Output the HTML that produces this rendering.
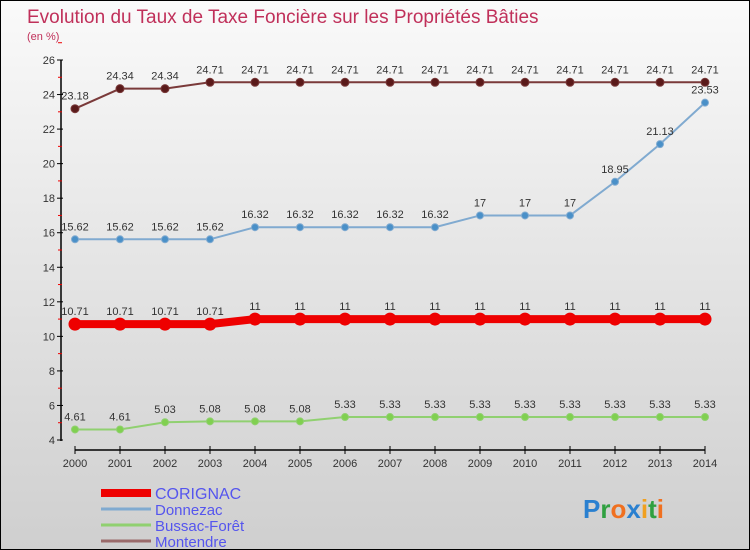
<!DOCTYPE html>
<html><head><meta charset="utf-8"><style>
body{margin:0}
#c{width:748px;height:548px;border:1px solid #000;position:relative;background:linear-gradient(#fafafa,#e8e8e8 40%,#cfcfcf);font-family:"Liberation Sans",sans-serif;overflow:hidden}
</style></head><body>
<div id="c">
<svg id="s" width="748" height="548" xmlns="http://www.w3.org/2000/svg" font-family="Liberation Sans, sans-serif">
<text x="26" y="22" font-size="19" fill="#c0305a">Evolution du Taux de Taxe Foncière sur les Propriétés Bâties</text>
<text x="26" y="39" font-size="11" fill="#c0305a">(en %)</text>
</svg>
</div>
<script>
const years=[2000,2001,2002,2003,2004,2005,2006,2007,2008,2009,2010,2011,2012,2013,2014];
const corignac=[10.71,10.71,10.71,10.71,11,11,11,11,11,11,11,11,11,11,11];
const donnezac=[15.62,15.62,15.62,15.62,16.32,16.32,16.32,16.32,16.32,17,17,17,18.95,21.13,23.53];
const bussac=[4.61,4.61,5.03,5.08,5.08,5.08,5.33,5.33,5.33,5.33,5.33,5.33,5.33,5.33,5.33];
const montendre=[23.18,24.34,24.34,24.71,24.71,24.71,24.71,24.71,24.71,24.71,24.71,24.71,24.71,24.71,24.71];
const yTicks=[4,6,8,10,12,14,16,18,20,22,24,26];
const NS="http://www.w3.org/2000/svg";
const s=document.getElementById('s');
const x=i=>74+i*45;
const y=v=>59+(26-v)*(380/22);
function mk(t,a,p){const e=document.createElementNS(NS,t);for(const k in a)e.setAttribute(k,a[k]);(p||s).appendChild(e);return e;}
let ax=mk('path',{d:`M60 59V440M74 449H704`,stroke:'#000','stroke-width':1.5,fill:'none'});


yTicks.forEach(v=>{
 mk('line',{x1:56,x2:62,y1:y(v),y2:y(v),stroke:'#000'});
 mk('line',{x1:57,x2:61,y1:y(v+1),y2:y(v+1),stroke:'#e00'});
 const t=mk('text',{x:54,y:y(v)+4,'text-anchor':'end','font-size':11,fill:'#333'});t.textContent=v;
 
 
});
years.forEach((yr,i)=>{
 mk('line',{x1:x(i),x2:x(i),y1:445,y2:453,stroke:'#000'});
 const t=mk('text',{x:x(i),y:466,'text-anchor':'middle','font-size':11,fill:'#333'});t.textContent=yr;
 
 
});
function series(d,col,dot,w,r,name){
 const g=mk('g',{});
 
 
 mk('polyline',{points:d.map((v,i)=>x(i)+','+y(v)).join(' '),stroke:col,'stroke-width':w,fill:'none'},g);
 d.forEach((v,i)=>{
  const c=mk('circle',{cx:x(i),cy:y(v),r:r,fill:dot,stroke:col,'stroke-width':1},g);
  
  
  const t=mk('text',{x:x(i),y:y(v)-9,'text-anchor':'middle','font-size':11,fill:'#333'},g);
  t.textContent=String(v);
  
  
 });
}
series(montendre,'#7a3a3a','#5a1a1a',2,4,'montendre');
series(donnezac,'#80aad0','#4a90c8',2,3.5,'donnezac');
series(bussac,'#90d070','#80d050',2,3.5,'bussac');
series(corignac,'#ee0000','#ee0000',8,6,'corignac');
const leg=[['CORIGNAC','#ee0000',8],['Donnezac','#80aad0',3],['Bussac-Forêt','#90d070',3],['Montendre','#9a6a6a',3]];
leg.forEach((l,i)=>{
 const yy=492+i*16;
 const g=mk('g',{});
 
 
 mk('line',{x1:100,x2:150,y1:yy,y2:yy,stroke:l[1],'stroke-width':l[2]},g);
 const t=mk('text',{x:154,y:yy+6,'font-size':l[0]==='CORIGNAC'?16:15,fill:'#5555ee'},g);t.textContent=l[0];
});
const p=mk('text',{x:582,y:517,'font-size':26,'font-weight':'bold'});


[['P','#2a80d0'],['r','#30a040'],['o','#f07020'],['x','#2a80d0'],['i','#f0a020'],['t','#30a040'],['i','#f07020']].forEach(c=>{const ts=mk('tspan',{fill:c[1]},p);ts.textContent=c[0];});
</script>
</body></html>
